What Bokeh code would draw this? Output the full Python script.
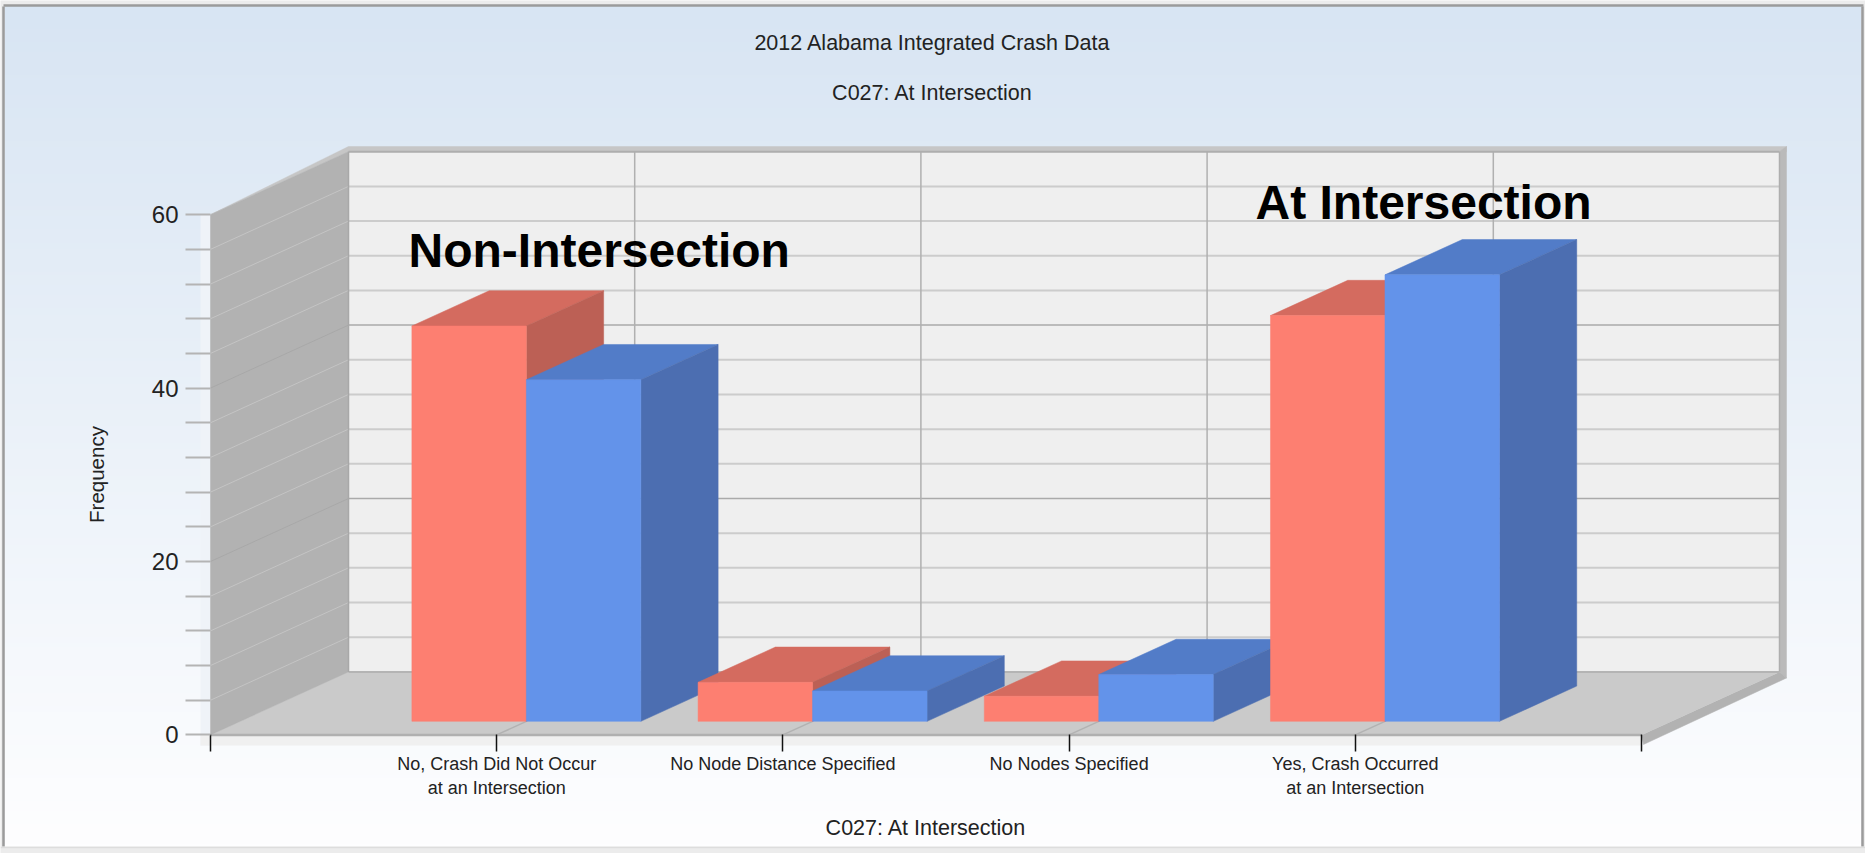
import numpy as np
from bokeh.plotting import figure
from bokeh.models import Range1d, FixedTicker, Label
from bokeh.embed import file_html
from bokeh.resources import INLINE

categories = ["No, Crash Did Not Occur\nat an Intersection", "No Node Distance Specified",
              "No Nodes Specified", "Yes, Crash Occurred\nat an Intersection"]
red_values = [45.6, 4.5, 2.9, 46.8]
blue_values = [39.4, 3.5, 5.4, 51.5]
y_major = [0, 20, 40, 60]
y_minor = [v for v in range(0, 61, 4) if v not in (0, 20, 40, 60)]
title_lines = ["2012 Alabama Integrated Crash Data", "C027: At Intersection"]
x_title = "C027: At Intersection"
y_title = "Frequency"
FONT = "Liberation Sans"

W, H = 1865, 853
PX_X, PX_Y = 286.2, 8.67     # pixels per category step / per frequency unit
LEFT, ZERO = 210.0, 734.4    # where x=0 and y=0 fall on the page
DX, DY = 138 / PX_X, 63 / PX_Y   # full depth of the 3-D box in data units
XMAX, YMAX = 5, 60
BAR_W = 0.4
BAR_D0, BAR_D1 = 0.215, 0.775

def sx(px): return (px - LEFT) / PX_X
def sy(px): return (ZERO - px) / PX_Y

p = figure(width=W, height=H, output_backend="svg", toolbar_location=None,
           x_range=Range1d(sx(0), sx(W)), y_range=Range1d(sy(H), sy(0)),
           min_border=0, outline_line_color=None, margin=(0, 0, 0, 0))
p.grid.visible = False
p.background_fill_color = "#ececec"
p.border_fill_color = "#ececec"

def proj(x, v, d):
    return x + d * DX, v + d * DY

def poly(points, color):
    xs, ys = zip(*points)
    p.patch(list(xs), list(ys), fill_color=color, line_color=color, line_width=0.5)

# panel gradient
grad = np.zeros((256, 1, 4), dtype=np.uint8)
t = np.clip(np.linspace(0, 1, 256), 0, 1)  # row 0 = bottom
top = np.array([216, 229, 243]); bottom = np.array([254, 254, 255])
for i, f in enumerate(t):
    c = bottom + (top - bottom) * f
    grad[i, 0] = [int(c[0]), int(c[1]), int(c[2]), 255]
img = grad.view(dtype=np.uint32).reshape((256, 1))
p.image_rgba(image=[img], x=sx(4), y=sy(846), dw=(1861 - 4) / PX_X, dh=(846 - 5) / PX_Y)

# panel border
for a, b, c, d in [(3, 6, 3, 846), (1862, 6, 1862, 846), (3, 5, 1863, 5)]:
    p.segment(sx(a), sy(b), sx(c), sy(d), line_color="#9b9b9b", line_width=2.5)
p.segment(sx(0), sy(847), sx(W), sy(847), line_color="#dddddd", line_width=1.5)

# light bands around the front of the box
p.quad(left=[sx(200)], right=[0], top=[60], bottom=[sy(745)], fill_color="#eff3f8", line_color=None)
p.quad(left=[sx(200)], right=[XMAX], top=[0], bottom=[sy(745)], fill_color="#f0f0f0", line_color=None)

# back wall
bx0, by0 = proj(0, 0, 1)
bx1, by1 = proj(XMAX, YMAX, 1)
p.quad(left=[bx0], right=[bx1], bottom=[by0], top=[by1], fill_color="#efefef", line_color=None)

# rims of the box
rx = 7 / PX_X
poly([proj(0, YMAX, 0), proj(0, YMAX + 0.6, 1), (bx1 + rx, by1 + 0.6), (bx1 + rx, by1), (bx1, by1), (bx0, by1)], "#c6c6c6")
poly([(bx1, by1), (bx1 + rx, by1 + 0.6), (bx1 + rx, by0 - 0.7), (bx1, by0)], "#bababa")
poly([proj(XMAX, 0, 0), (bx1, by0), (bx1 + rx, by0 - 0.7), (sx(1643), sy(744))], "#b2b2b2")

# back-wall grid
for v in y_minor:
    xx, yy = proj(0, v, 1)
    p.segment(xx, yy, bx1, yy, line_color="#cccccc", line_width=2)
for v in y_major[1:-1]:
    xx, yy = proj(0, v, 1)
    p.segment(xx, yy, bx1, yy, line_color="#aaaaaa", line_width=1.5)
for c in range(1, XMAX):
    xx, _ = proj(c, 0, 1)
    p.segment(xx, by0, xx, by1, line_color="#b0b0b0", line_width=1.5)
p.segment(bx0, by1, bx1, by1, line_color="#aeaeae", line_width=2)
p.segment(bx1, by0, bx1, by1, line_color="#aeaeae", line_width=1.5)

# floor
poly([proj(0, 0, 0), proj(XMAX, 0, 0), proj(XMAX, 0, 1), proj(0, 0, 1)], "#cacaca")
p.segment(bx0, by0, bx1, by0, line_color="#b4b4b4", line_width=2)
for c in range(1, XMAX):
    a = proj(c, 0, 0); b = proj(c, 0, BAR_D0)
    p.segment(a[0], a[1], b[0], b[1], line_color="#b2b2b2", line_width=1.5)

# left wall
poly([proj(0, 0, 0), proj(0, YMAX, 0), proj(0, YMAX, 1), proj(0, 0, 1)], "#b2b2b2")
for v in y_minor:
    a = proj(0, v, 0); b = proj(0, v, 1)
    p.segment(a[0], a[1], b[0], b[1], line_color="#c4c4c4", line_width=1)
for v in y_major[1:-1]:
    a = proj(0, v, 0); b = proj(0, v, 1)
    p.segment(a[0], a[1], b[0], b[1], line_color="#a8a8a8", line_width=1)
p.segment(bx0, by0, bx0, by1, line_color="#a8a8a8", line_width=1.5)
p.segment(0, 0, XMAX, 0, line_color="#b0b0b0", line_width=2.5)

# bars
def bar(x0, x1, v, front, topc, side):
    poly([proj(x0, v, BAR_D0), proj(x1, v, BAR_D0), proj(x1, v, BAR_D1), proj(x0, v, BAR_D1)], topc)
    poly([proj(x1, 0, BAR_D0), proj(x1, v, BAR_D0), proj(x1, v, BAR_D1), proj(x1, 0, BAR_D1)], side)
    poly([proj(x0, 0, BAR_D0), proj(x1, 0, BAR_D0), proj(x1, v, BAR_D0), proj(x0, v, BAR_D0)], front)

for i, (r, b) in enumerate(zip(red_values, blue_values)):
    c = i + 1
    bar(c - BAR_W, c, r, "#fd7f71", "#d46b5f", "#bc6055")
    bar(c, c + BAR_W, b, "#6393ea", "#527cc8", "#4c6eb1")

# axes
ax = p.xaxis[0]
ax.fixed_location = 0
ax.bounds = (0, XMAX)
ax.ticker = FixedTicker(ticks=list(range(0, XMAX + 1)))
ax.major_label_overrides = {i + 1: s for i, s in enumerate(categories)} | {0: "", XMAX: ""}
ax.major_tick_in = 0; ax.major_tick_out = 17
ax.minor_tick_in = 0; ax.minor_tick_out = 0
ax.major_tick_line_color = "#111111"; ax.major_tick_line_width = 1.5
ax.axis_line_color = None
ax.major_label_text_font = FONT; ax.major_label_text_font_size = "18px"
ax.major_label_text_color = "#222222"
ax.major_label_standoff = 2
ax.axis_label = x_title
ax.axis_label_text_font = FONT; ax.axis_label_text_font_size = "21.5px"
ax.axis_label_text_font_style = "normal"; ax.axis_label_text_color = "#222222"
ax.axis_label_standoff = 15

ay = p.yaxis[0]
ay.fixed_location = 0
ay.bounds = (0, YMAX)
ay.ticker = FixedTicker(ticks=y_major, minor_ticks=y_minor)
ay.major_tick_in = 0; ay.major_tick_out = 25
ay.minor_tick_in = 0; ay.minor_tick_out = 25
ay.major_tick_line_color = "#b4b4b4"; ay.minor_tick_line_color = "#b4b4b4"
ay.major_tick_line_width = 2; ay.minor_tick_line_width = 2
ay.axis_line_color = None
ay.major_label_text_font = FONT; ay.major_label_text_font_size = "24px"
ay.major_label_text_color = "#222222"
ay.major_label_standoff = 7
ay.axis_label = y_title
ay.axis_label_text_font = FONT; ay.axis_label_text_font_size = "20.5px"
ay.axis_label_text_font_style = "normal"; ay.axis_label_text_color = "#222222"
ay.axis_label_standoff = 41

# titles
for txt, py in zip(title_lines, (42.5, 92.7)):
    p.add_layout(Label(x=sx(932), y=sy(py), text=txt, text_align="center", text_baseline="middle",
                       text_font=FONT, text_font_size="21.5px", text_color="#222222"))

# annotations
p.add_layout(Label(x=sx(408), y=sy(250), text="Non-Intersection", text_baseline="alphabetic",
                   text_font=FONT, text_font_size="48px", text_font_style="bold", text_color="#000000"))
p.add_layout(Label(x=sx(1255), y=sy(202), text="At Intersection", text_baseline="alphabetic",
                   text_font=FONT, text_font_size="48px", text_font_style="bold", text_color="#000000"))

open("out.html", "w").write(file_html(p, INLINE))
